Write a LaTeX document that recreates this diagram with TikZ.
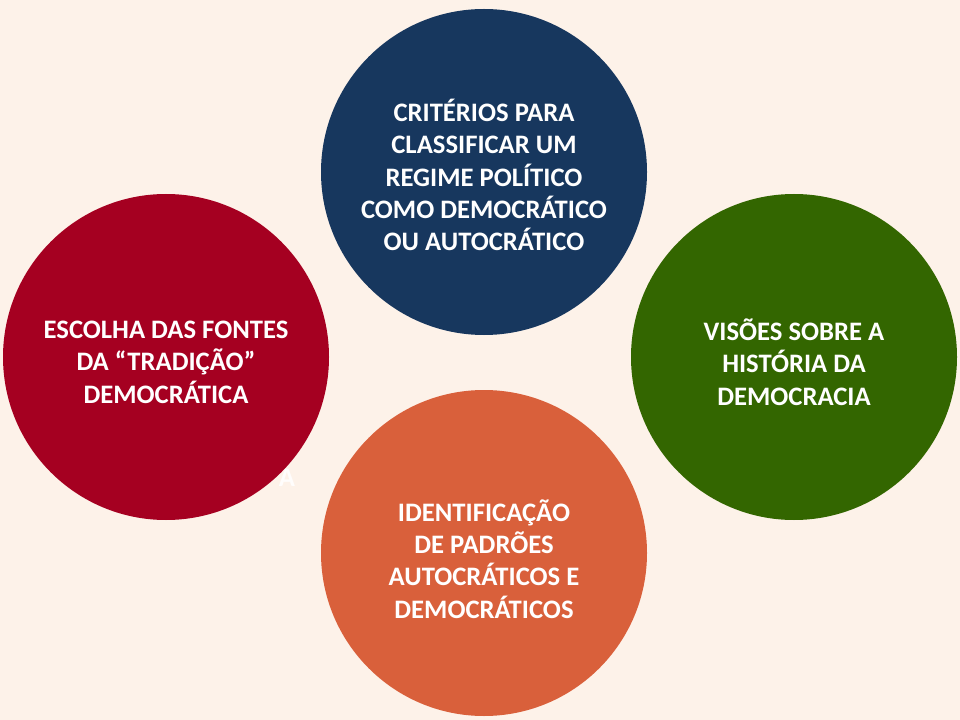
\documentclass[tikz,border=0pt]{standalone}
\usepackage{fontspec}
\setmainfont{Carlito}
\definecolor{bgc}{HTML}{FDF2E9}
\definecolor{cblue}{HTML}{17375E}
\definecolor{cred}{HTML}{A50021}
\definecolor{cgreen}{HTML}{336600}
\definecolor{corange}{HTML}{D9603B}
\begin{document}
\begin{tikzpicture}[x=0.75pt,y=-0.75pt,
  bubble/.style={circle,minimum size=244.5pt,inner sep=0pt},
  label/.style={text=white,font=\bfseries\fontsize{20}{24.3}\selectfont,align=center}]
\fill[bgc] (0,0) rectangle (960,720);
\useasboundingbox (0,0) rectangle (960,720);
\node[bubble,fill=cblue] (top) at (484,172) {};
\node[bubble,fill=cred] (left) at (166,357) {};
\node[bubble,fill=cgreen] (right) at (794,357) {};
\node[bubble,fill=corange] (bottom) at (484,553) {};
\node[label] (ttop) at (484,175) {CRITÉRIOS PARA\\CLASSIFICAR UM\\REGIME POLÍTICO\\COMO DEMOCRÁTICO\\OU AUTOCRÁTICO};
\node[label] (tleft) at (166,362) {ESCOLHA DAS FONTES\\DA “TRADIÇÃO”\\DEMOCRÁTICA};
\node[label] (tright) at (794,362) {VISÕES SOBRE A\\HISTÓRIA DA\\DEMOCRACIA};
\node[label] (tbottom) at (484,559) {IDENTIFICAÇÃO\\DE PADRÕES\\AUTOCRÁTICOS E\\DEMOCRÁTICOS};
\node[text=white!85!bgc,font=\bfseries\fontsize{20}{24}\selectfont] (ghost) at (287,478) {A};
\end{tikzpicture}
\end{document}
